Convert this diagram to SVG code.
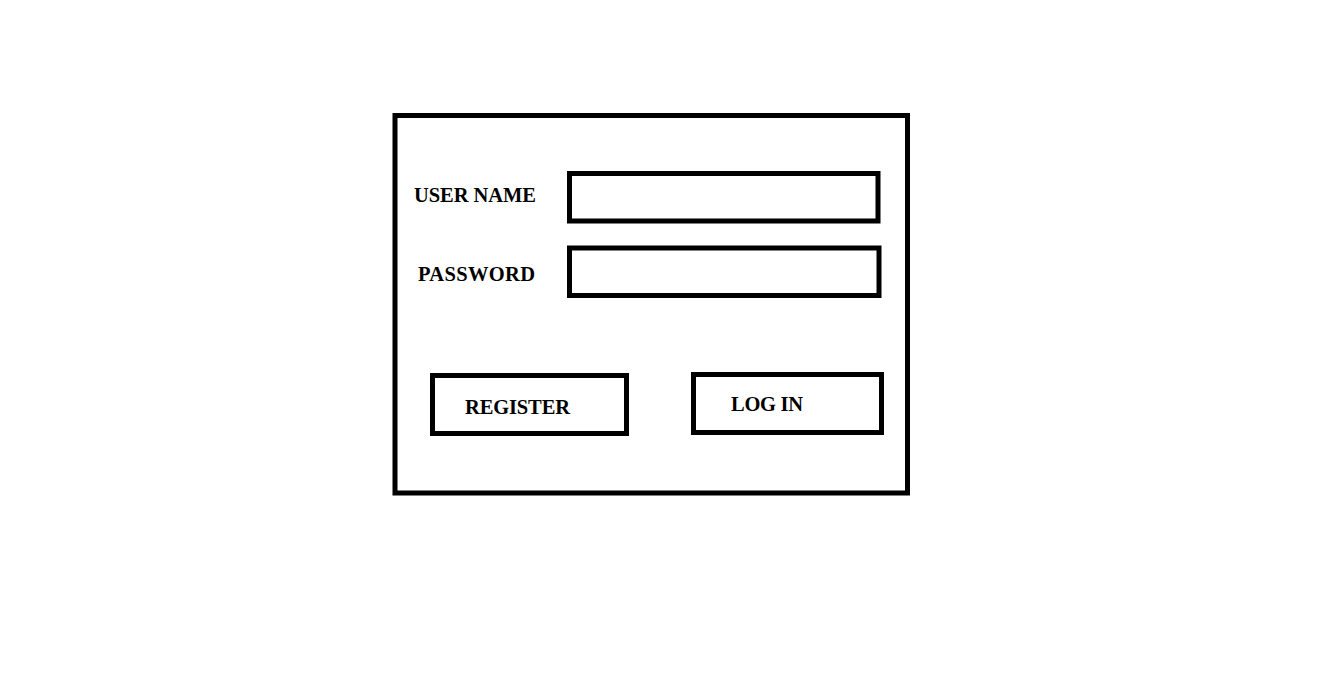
<svg xmlns="http://www.w3.org/2000/svg" width="1343" height="685" viewBox="0 0 1343 685">
<style>
.box{fill:none;stroke:#000;stroke-width:5}
.lbl{font-family:"Liberation Serif","Times New Roman",serif;font-weight:bold;font-size:20.5px;fill:#000}
</style>
<rect width="1343" height="685" fill="#fff"/>
<g id="form"><rect class="box" x="395" y="115.5" width="512.5" height="377.5"/></g>
<g id="username-label"><text class="lbl" x="414" y="202" textLength="122">USER NAME</text></g>
<g id="username-field"><rect class="box" x="569.5" y="173.5" width="308.5" height="47.5"/></g>
<g id="password-label"><text class="lbl" x="418" y="281" textLength="117">PASSWORD</text></g>
<g id="password-field"><rect class="box" x="569.5" y="248" width="309.5" height="47.5"/></g>
<g id="register"><rect class="box" x="432.5" y="375.5" width="194" height="58"/><text class="lbl" x="465" y="414" textLength="105">REGISTER</text></g>
<g id="login"><rect class="box" x="693.5" y="374.5" width="188" height="58"/><text class="lbl" x="731" y="411" textLength="72">LOG IN</text></g>
<g id="connectors"></g>
</svg>
